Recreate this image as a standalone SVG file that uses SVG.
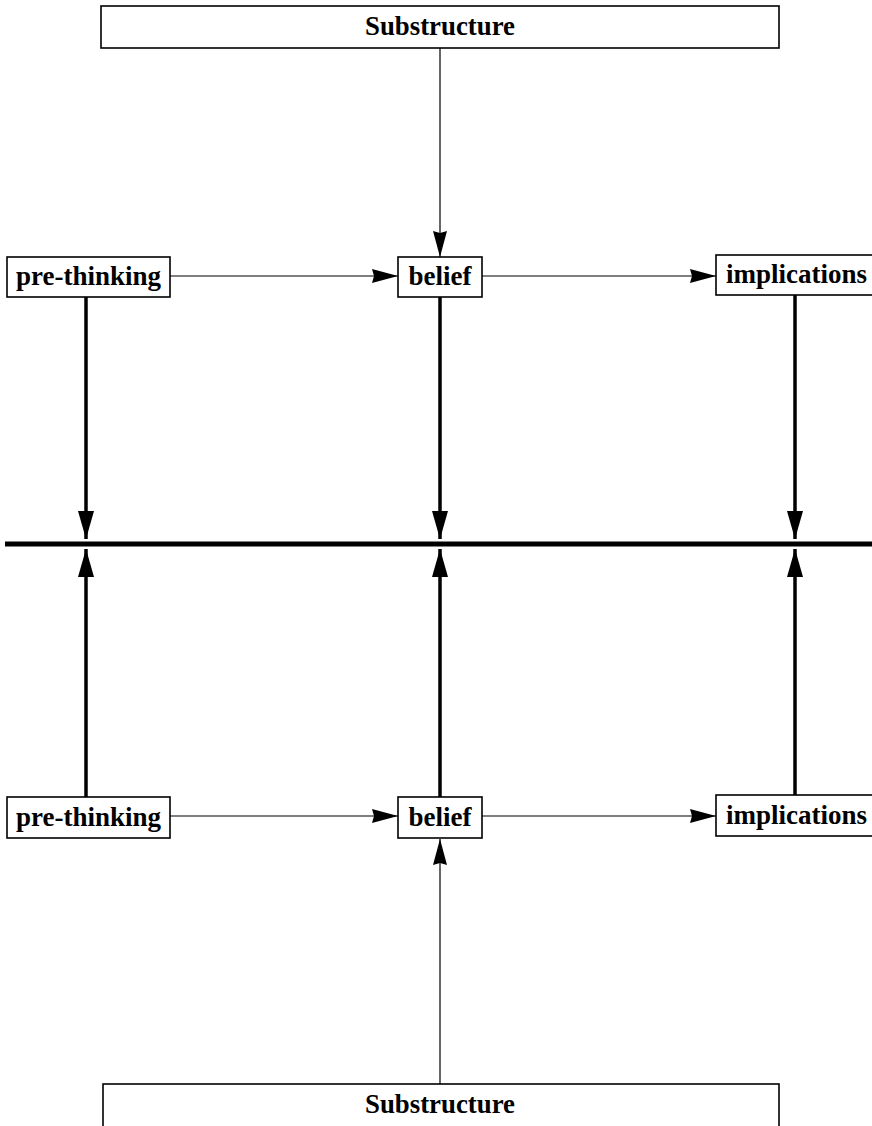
<svg xmlns="http://www.w3.org/2000/svg" width="872" height="1126" viewBox="0 0 872 1126">
  <style>
    .box { fill: #fff; stroke: #000; stroke-width: 1.6; }
    .label { font-family: 'Liberation Serif', serif; font-weight: 700; font-size: 27px; text-anchor: middle; fill: #000; }
    .thin { stroke: #000; stroke-width: 1.2; fill: none; }
    .thick { stroke: #000; stroke-width: 3.5; fill: none; }
    .axis { stroke: #000; stroke-width: 5; fill: none; }
  </style>
  <defs>
    <marker id="headThin" markerUnits="userSpaceOnUse" viewBox="0 0 26 14" markerWidth="26" markerHeight="14" refX="26" refY="7" orient="auto">
      <path d="M0,0 L26,7 L0,14 L2,7 z" fill="#000"/>
    </marker>
    <marker id="headThick" markerUnits="userSpaceOnUse" viewBox="0 0 28 16" markerWidth="28" markerHeight="16" refX="28" refY="8" orient="auto">
      <path d="M0,0 L28,8 L0,16 z" fill="#000"/>
    </marker>
  </defs>

  <!-- connectors -->
  <g id="connectors">
    <line class="thin" x1="440" y1="48" x2="440" y2="257" marker-end="url(#headThin)"/>
    <line class="thin" x1="170" y1="276" x2="398" y2="276" marker-end="url(#headThin)"/>
    <line class="thin" x1="482" y1="276" x2="716" y2="276" marker-end="url(#headThin)"/>
    <line class="thick" x1="86" y1="297" x2="86" y2="539" marker-end="url(#headThick)"/>
    <line class="thick" x1="440" y1="297" x2="440" y2="539" marker-end="url(#headThick)"/>
    <line class="thick" x1="795" y1="295" x2="795" y2="539" marker-end="url(#headThick)"/>
    <line class="axis" x1="5" y1="544" x2="872" y2="544"/>
    <line class="thick" x1="86" y1="797" x2="86" y2="549" marker-end="url(#headThick)"/>
    <line class="thick" x1="440" y1="797" x2="440" y2="549" marker-end="url(#headThick)"/>
    <line class="thick" x1="795" y1="795" x2="795" y2="549" marker-end="url(#headThick)"/>
    <line class="thin" x1="170" y1="816" x2="398" y2="816" marker-end="url(#headThin)"/>
    <line class="thin" x1="482" y1="816" x2="716" y2="816" marker-end="url(#headThin)"/>
    <line class="thin" x1="440" y1="1084" x2="440" y2="839" marker-end="url(#headThin)"/>
  </g>

  <!-- upper level -->
  <g id="substructure-top">
    <rect class="box" x="101" y="6" width="678" height="42"/>
    <text class="label" x="440" y="35" textLength="150" lengthAdjust="spacingAndGlyphs">Substructure</text>
  </g>
  <g id="prethinking-top">
    <rect class="box" x="7" y="257" width="163" height="40"/>
    <text class="label" x="88.5" y="285" textLength="145" lengthAdjust="spacingAndGlyphs">pre-thinking</text>
  </g>
  <g id="belief-top">
    <rect class="box" x="398" y="257" width="84" height="40"/>
    <text class="label" x="440" y="285" textLength="63" lengthAdjust="spacingAndGlyphs">belief</text>
  </g>
  <g id="implications-top">
    <rect class="box" x="716" y="255" width="160" height="40"/>
    <text class="label" x="796.5" y="283" textLength="141" lengthAdjust="spacingAndGlyphs">implications</text>
  </g>

  <!-- lower level -->
  <g id="prethinking-bottom">
    <rect class="box" x="7" y="797" width="163" height="41"/>
    <text class="label" x="88.5" y="826" textLength="145" lengthAdjust="spacingAndGlyphs">pre-thinking</text>
  </g>
  <g id="belief-bottom">
    <rect class="box" x="398" y="797" width="84" height="41"/>
    <text class="label" x="440" y="826" textLength="63" lengthAdjust="spacingAndGlyphs">belief</text>
  </g>
  <g id="implications-bottom">
    <rect class="box" x="716" y="795" width="160" height="41"/>
    <text class="label" x="796.5" y="824" textLength="141" lengthAdjust="spacingAndGlyphs">implications</text>
  </g>
  <g id="substructure-bottom">
    <rect class="box" x="103" y="1084" width="676" height="60"/>
    <text class="label" x="440" y="1113" textLength="150" lengthAdjust="spacingAndGlyphs">Substructure</text>
  </g>
</svg>
